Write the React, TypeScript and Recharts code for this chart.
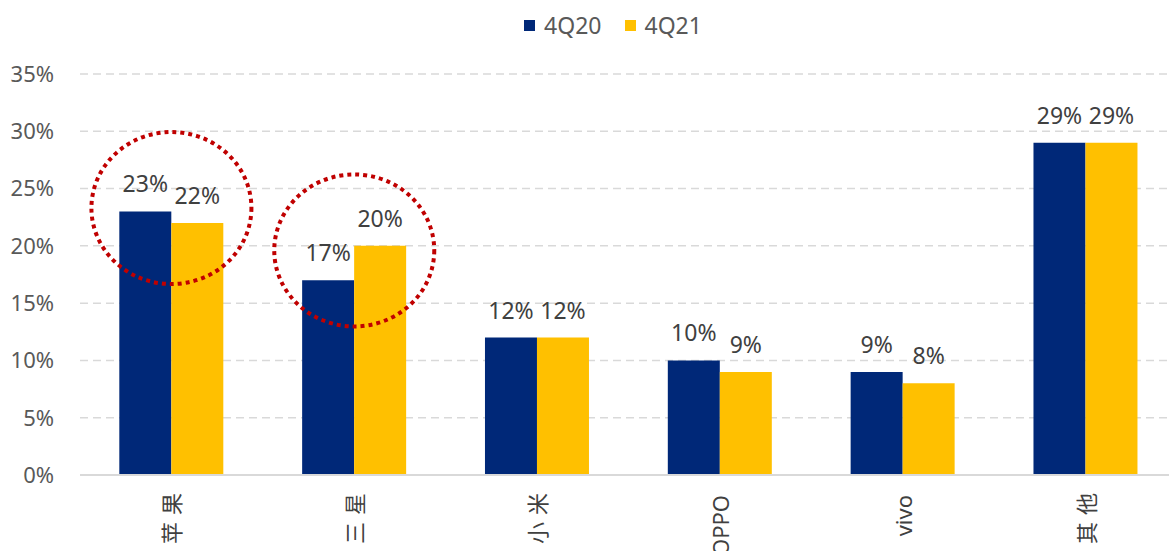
import React from 'react';
import { BarChart, Bar, XAxis, YAxis, CartesianGrid, Legend, LabelList, ReferenceDot } from 'recharts';

const categories = ['苹果', '三星', '小米', 'OPPO', 'vivo', '其他'];
const q420 = [23, 17, 12, 10, 9, 29];
const q421 = [22, 20, 12, 9, 8, 29];
const yTicks = [0, 5, 10, 15, 20, 25, 30, 35];
const seriesNames = ['4Q20', '4Q21'];
const highlightCats = ['苹果', '三星'];
const highlightVals = [23.3, 19.6];

const data = categories.map((c, i) => ({ name: c, a: q420[i], b: q421[i] }));

const FONT = '"Noto Sans", "Noto Sans CJK SC", sans-serif';
const NAVY = '#002878';
const GOLD = '#FFC000';

const isCJK = (s: string) => /[\u4e00-\u9fff]/.test(s);

const XTick = (props: any) => {
  const { x, y, payload } = props;
  const cjk = isCJK(String(payload.value));
  const ty = y + (cjk ? 3 : 12);
  return (
    <text
      x={x}
      y={ty}
      transform={`rotate(-90, ${x}, ${ty})`}
      textAnchor="end"
      dominantBaseline="central"
      fontSize={22}
      fill="#404040"
      letterSpacing={cjk ? 7 : 0}
      fontFamily='"Noto Sans", "Noto Sans CJK SC", sans-serif'
    >
      {payload.value}
    </text>
  );
};

const LegendContent = () => (
  <div style={{ height: 62, display: 'flex', alignItems: 'flex-start', justifyContent: 'center', paddingLeft: 49, boxSizing: 'border-box', fontFamily: FONT, fontSize: 23, color: '#595959', lineHeight: '26px' }}>
    {seriesNames.map((n, i) => (
      <div key={n} style={{ display: 'flex', alignItems: 'center', height: 26, marginRight: i === 0 ? 23 : 0 }}>
        <span style={{ display: 'inline-block', width: 11, height: 11, background: i === 0 ? NAVY : GOLD, marginRight: 9 }} />
        <span>{n}</span>
      </div>
    ))}
  </div>
);

const Ellipse = (props: any) => {
  const { cx, cy } = props;
  return (
    <ellipse cx={cx} cy={cy} rx={80} ry={76} fill="none" stroke="#C00000" strokeWidth={4} strokeDasharray="4 4" />
  );
};

export default function App() {
  return (
    <div style={{ position: 'absolute', left: 0, top: 0, width: 1169, height: 551, background: '#fff', overflow: 'hidden' }}>
      <BarChart
        width={1177}
        height={551}
        data={data}
        margin={{ top: 12, right: 0, left: 0, bottom: 0 }}
        barCategoryGap="21.5%"
        barGap={0}
      >
        <CartesianGrid vertical={false} stroke="#D9D9D9" strokeDasharray="8 5" strokeWidth={1.5} />
        <Legend verticalAlign="top" content={<LegendContent />} />
        <XAxis
          dataKey="name"
          interval={0}
          height={76}
          tickLine={false}
          axisLine={{ stroke: '#D9D9D9', strokeWidth: 2 }}
          tick={<XTick />}
        />
        <YAxis
          domain={[0, 35]}
          ticks={yTicks}
          width={80}
          axisLine={false}
          tickLine={false}
          tickSize={0}
          tickMargin={26}
          tickFormatter={(v: number) => `${v}%`}
          tick={{ fontSize: 22, fill: '#595959', fontFamily: FONT }}
        />
        <Bar dataKey="a" name={seriesNames[0]} fill={NAVY} isAnimationActive={false}>
          <LabelList dataKey="a" position="top" offset={19} formatter={(v: any) => `${v}%`} style={{ fontSize: 23, fill: '#404040', fontFamily: FONT }} />
        </Bar>
        <Bar dataKey="b" name={seriesNames[1]} fill={GOLD} isAnimationActive={false}>
          <LabelList dataKey="b" position="top" offset={19} formatter={(v: any) => `${v}%`} style={{ fontSize: 23, fill: '#404040', fontFamily: FONT }} />
        </Bar>
        {highlightCats.map((c, i) => (
          <ReferenceDot key={c} x={c} y={highlightVals[i]} ifOverflow="visible" shape={<Ellipse />} />
        ))}
      </BarChart>
    </div>
  );
}
